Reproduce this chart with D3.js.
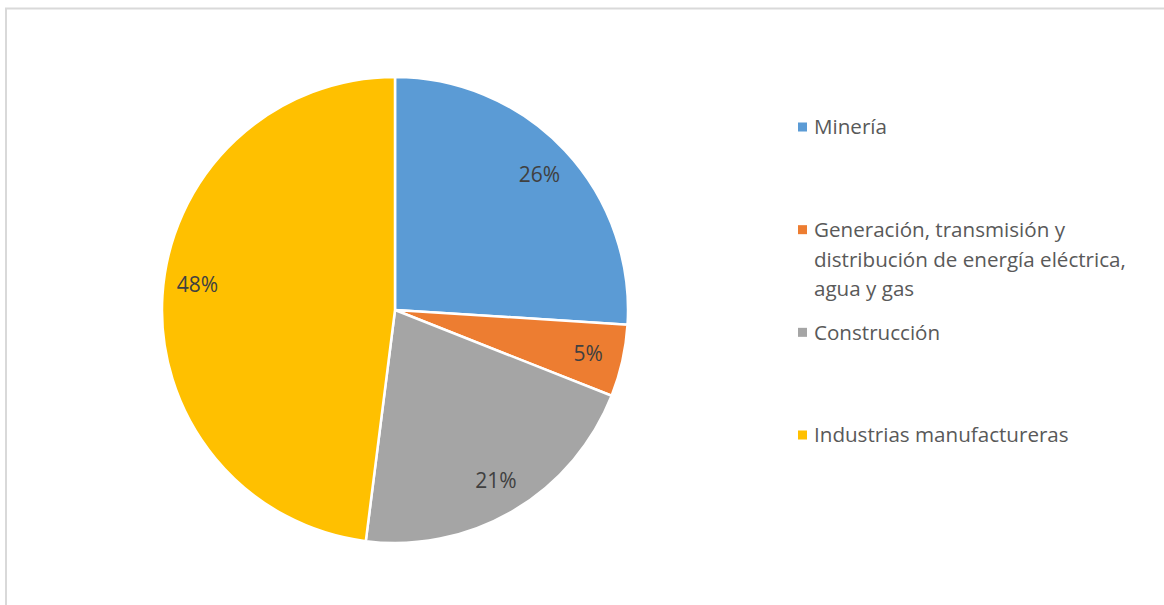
<!DOCTYPE html>
<html>
<head>
<meta charset="utf-8">
<script src="https://cdn.jsdelivr.net/npm/d3@7"></script>
<style>
  html, body { margin: 0; padding: 0; background: #ffffff; }
  svg { display: block; }
</style>
</head>
<body>
<svg id="chart" width="1164" height="605"></svg>
<script>
// Sector shares (%)
const categories = [
  "Minería",
  "Generación, transmisión y distribución de energía eléctrica, agua y gas",
  "Construcción",
  "Industrias manufactureras"
];
const values = [26, 5, 21, 48];
const colors = ["#5B9BD5", "#ED7D31", "#A5A5A5", "#FFC000"];
// Legend entries split across lines
const legendLines = [
  ["Minería"],
  ["Generación, transmisión y", "distribución de energía eléctrica,", "agua y gas"],
  ["Construcción"],
  ["Industrias manufactureras"]
];

const svg = d3.select("#chart");
const W = 1164, H = 605;
const font = "'Open Sans', 'Noto Sans', sans-serif";

// Chart area frame
svg.append("rect")
  .attr("x", 6).attr("y", 8.5)
  .attr("width", W + 20).attr("height", H + 20)
  .attr("fill", "#fff")
  .attr("stroke", "#d9d9d9")
  .attr("stroke-width", 2);

const cx = 395, cy = 310, R = 233;
const g = svg.append("g").attr("transform", `translate(${cx},${cy})`);

const pie = d3.pie().sort(null).value(d => d.v);
const data = pie(values.map((v, i) => ({ v, i })));
const arc = d3.arc().innerRadius(0).outerRadius(R);
const labelArc = d3.arc().innerRadius(R * 0.85).outerRadius(R * 0.85);

g.selectAll("path.slice")
  .data(data)
  .enter().append("path")
  .attr("class", "slice")
  .attr("d", arc)
  .attr("fill", d => colors[d.data.i])
  .attr("stroke", "#ffffff")
  .attr("stroke-width", 2.5)
  .attr("stroke-linejoin", "round");

// Data labels; the largest slice's label sits a little higher
const maxVal = d3.max(values);
const labelLift = d => (d.data.v === maxVal ? -13 : 0);
g.selectAll("text.pct")
  .data(data)
  .enter().append("text")
  .attr("class", "pct")
  .attr("transform", d => {
    const [x, y] = labelArc.centroid(d);
    return `translate(${x},${y + labelLift(d)})`;
  })
  .attr("text-anchor", "middle")
  .attr("dy", "0.36em")
  .attr("font-family", font)
  .attr("font-size", 21)
  .attr("fill", "#404040")
  .text(d => d.data.v + "%");

// Legend
const legendY = d3.scalePoint()
  .domain(categories)
  .range([127, 435]);
const lineH = 29.5;
const legend = svg.append("g");
categories.forEach((c, i) => {
  const y0 = legendY(c);
  legend.append("rect")
    .attr("x", 798).attr("y", y0 - 4.5)
    .attr("width", 9).attr("height", 9)
    .attr("fill", colors[i]);
  const t = legend.append("text")
    .attr("x", 814).attr("y", y0)
    .attr("font-family", font)
    .attr("font-size", 20.6)
    .attr("fill", "#595959");
  legendLines[i].forEach((line, k) => {
    t.append("tspan")
      .attr("x", 814)
      .attr("y", y0 + k * lineH)
      .attr("dy", "0.36em")
      .text(line);
  });
});
</script>
</body>
</html>
